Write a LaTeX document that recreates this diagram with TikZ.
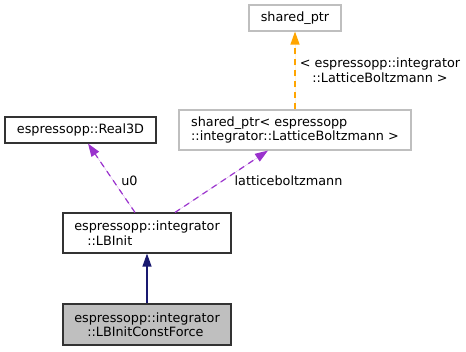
\documentclass[tikz,border=0pt]{standalone}
\usepackage{fontspec}
\setmainfont{DejaVu Sans}
\usetikzlibrary{arrows.meta}
\definecolor{grey75}{HTML}{BFBFBF}
\definecolor{usepurple}{HTML}{9A32CD}
\definecolor{tmplorange}{HTML}{FFA500}
\definecolor{inhnavy}{HTML}{191970}
\begin{document}
\begin{tikzpicture}[x=1bp,y=-1bp,
  font=\fontsize{12.8bp}{14.5bp}\selectfont,
  cls/.style={draw=black!80, line width=1.1bp, inner sep=0pt, align=left},
  extcls/.style={cls, draw=grey75},
  focal/.style={cls, fill=grey75},
  tip/.style={-{Triangle[length=13bp,width=9bp]}},
  inherit/.style={tip, draw=inhnavy, fill=inhnavy, line width=1.2bp},
  usage/.style={tip, draw=usepurple, fill=usepurple, line width=1.2bp, dash pattern=on 6bp off 5bp},
  tmpl/.style={tip, draw=tmplorange, fill=tmplorange, line width=1.2bp, dash pattern=on 6bp off 5bp},
  lbl/.style={inner sep=0pt, align=center}]
\useasboundingbox (0,0) rectangle (466,351);

% classes
\node[extcls, minimum width=92bp, minimum height=26bp] (sp) at (295,18) {shared\_ptr};
\node[extcls, minimum width=232bp, minimum height=40bp] (spl) at (295,130)
  {shared\_ptr< espressopp\\::integrator::LatticeBoltzmann >};
\node[cls, minimum width=151bp, minimum height=26bp] (real) at (80.5,130) {espressopp::Real3D};
\node[cls, minimum width=168bp, minimum height=40bp] (lb) at (147,233)
  {espressopp::integrator\\\hspace*{13bp}::LBInit};
\node[focal, minimum width=168bp, minimum height=41bp] (cf) at (147,324.5)
  {espressopp::integrator\\\hspace*{13bp}::LBInitConstForce};

% relations
\draw[inherit] (cf.north) -- (lb.south);
\draw[usage] ([xshift=-12bp]lb.north) -- ([xshift=7.5bp]real.south);
\draw[usage] ([xshift=28bp]lb.north) -- ([xshift=-27bp]spl.south);
\draw[tmpl] (spl.north) -- (sp.south);

% edge labels
\node[lbl] (lu) at (129.5,181) {u0};
\node[lbl] (llb) at (288.5,181) {latticeboltzmann};
\node[lbl] (ltmpl) at (380,70) {< espressopp::integrator\\::LatticeBoltzmann >};
\end{tikzpicture}
\end{document}
